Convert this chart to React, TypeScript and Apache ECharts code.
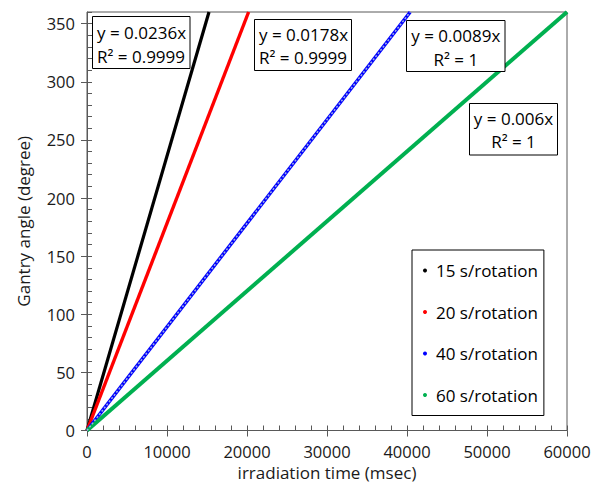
import React, { useEffect, useRef } from "react";
import * as echarts from "echarts";

const seriesNames = ["15 s/rotation", "20 s/rotation", "40 s/rotation", "60 s/rotation"];
const seriesColors = ["#000000", "#ff0000", "#0000ff", "#00b050"];
const lineWidths = [3.2, 3.4, 3.5, 4];
// [irradiation time (msec), gantry angle (degree)]
const data15: number[][] = [[0, 0], [15250, 360]];
const data20: number[][] = [[0, 0], [20200, 360]];
const data40: number[][] = [[0, 0], [40400, 360]];
const data60: number[][] = [[0, 0], [60000, 360]];
const seriesData = [data15, data20, data40, data60];
const fitTexts = [
  "y = 0.0236x\nR² = 0.9999",
  "y = 0.0178x\nR² = 0.9999",
  "y = 0.0089x\nR² = 1",
  "y = 0.006x\nR² = 1",
];

const FONT = "Open Sans";
const AXIS_COLOR = "#595959";
const TEXT_COLOR = "#1a1a1a";

export default function App() {
  const ref = useRef<HTMLDivElement>(null);
  useEffect(() => {
    if (!ref.current) return;
    const chart = echarts.init(ref.current, undefined, { renderer: "svg" });
    const series: any[] = seriesNames.map((name, i) => ({
      name,
      type: "line",
      data: seriesData[i],
      symbol: "none",
      color: seriesColors[i],
      lineStyle: { color: seriesColors[i], width: lineWidths[i] },
      z: 2 + i,
    }));
    series.push({
      name: "trend40",
      type: "line",
      data: data40,
      symbol: "none",
      lineStyle: { color: "#9fb0e0", width: 1.5, type: [2, 2] },
      z: 10,
    });

    const boxes = [
      { x: 92.5, y: 16.5, w: 97.5, h: 52, align: "left", tx: 97, ty: 21 },
      { x: 254.5, y: 19.5, w: 97, h: 51, align: "left", tx: 259, ty: 22.5 },
      { x: 406.5, y: 20.5, w: 98.5, h: 51, align: "center", tx: 455.8, ty: 24 },
      { x: 469.5, y: 103.5, w: 88, h: 51.5, align: "center", tx: 513.5, ty: 106.5 },
    ];
    const graphics: any[] = [];
    boxes.forEach((b, i) => {
      graphics.push({
        type: "rect",
        shape: { x: b.x, y: b.y, width: b.w, height: b.h },
        style: { fill: "#fff", stroke: "#000", lineWidth: 1 },
        z: 100,
      });
      graphics.push({
        type: "text",
        x: b.tx,
        y: b.ty,
        style: {
          text: fitTexts[i],
          font: `17px "${FONT}"`,
          fill: "#000",
          textAlign: b.align,
          textVerticalAlign: "top",
          lineHeight: 23.5,
        },
        z: 101,
      });
    });

    const xBase = { type: "value", min: 0, max: 60000, interval: 10000, gridIndex: 0 };
    const yBase = { type: "value", min: 0, max: 360, interval: 50, gridIndex: 0 };

    chart.setOption({
      animation: false,
      grid: {
        left: 87,
        right: 35,
        top: 12,
        bottom: 59.5,
        show: true,
        borderColor: AXIS_COLOR,
        borderWidth: 1,
        backgroundColor: "#fff",
      },
      legend: {
        data: seriesNames.map((n) => ({ name: n, icon: "circle" })),
        orient: "vertical",
        left: 412,
        top: 250,
        padding: [12, 6, 12, 11],
        itemGap: 24.5,
        itemWidth: 4,
        itemHeight: 4,
        borderColor: "#000",
        borderWidth: 1,
        backgroundColor: "#fff",
        textStyle: { fontFamily: FONT, fontSize: 17, color: "#000", padding: [0, 0, 0, 4] },
      },
      xAxis: [
        {
          ...xBase,
          position: "bottom",
          name: "irradiation time (msec)",
          nameLocation: "middle",
          nameGap: 33,
          nameTextStyle: { fontFamily: FONT, fontSize: 17, color: TEXT_COLOR },
          axisLine: { show: true, lineStyle: { color: AXIS_COLOR, width: 1 } },
          axisTick: { show: true, inside: false, length: 6, lineStyle: { color: AXIS_COLOR } },
          axisLabel: {
            fontFamily: FONT,
            fontSize: 16.5,
            color: TEXT_COLOR,
            margin: 12,
            formatter: (v: number) => String(v),
          },
          splitLine: { show: false },
        },
        {
          ...xBase,
          position: "bottom",
          axisLine: { show: false },
          axisTick: { show: true, inside: true, length: 5, lineStyle: { color: AXIS_COLOR } },
          minorTick: { show: true, splitNumber: 5, length: 5, lineStyle: { color: AXIS_COLOR } },
          axisLabel: { show: false },
          splitLine: { show: false },
        },
      ],
      yAxis: [
        {
          ...yBase,
          position: "left",
          name: "Gantry angle (degree)",
          nameLocation: "middle",
          nameGap: 55,
          nameTextStyle: { fontFamily: FONT, fontSize: 17, color: TEXT_COLOR },
          axisLine: { show: true, lineStyle: { color: AXIS_COLOR, width: 1 } },
          axisTick: { show: true, inside: false, length: 6, lineStyle: { color: AXIS_COLOR } },
          axisLabel: {
            fontFamily: FONT,
            fontSize: 16.5,
            color: TEXT_COLOR,
            margin: 12,
            formatter: (v: number) => String(v),
          },
          splitLine: { show: false },
        },
        {
          ...yBase,
          position: "left",
          axisLine: { show: false },
          axisTick: { show: true, inside: true, length: 5, lineStyle: { color: AXIS_COLOR } },
          minorTick: { show: true, splitNumber: 5, length: 5, lineStyle: { color: AXIS_COLOR } },
          axisLabel: { show: false },
          splitLine: { show: false },
        },
      ],
      series,
      graphic: graphics,
    });
    return () => chart.dispose();
  }, []);
  return (
    <div
      ref={ref}
      style={{ position: "absolute", left: 0, top: 0, width: 602, height: 490 }}
    />
  );
}
